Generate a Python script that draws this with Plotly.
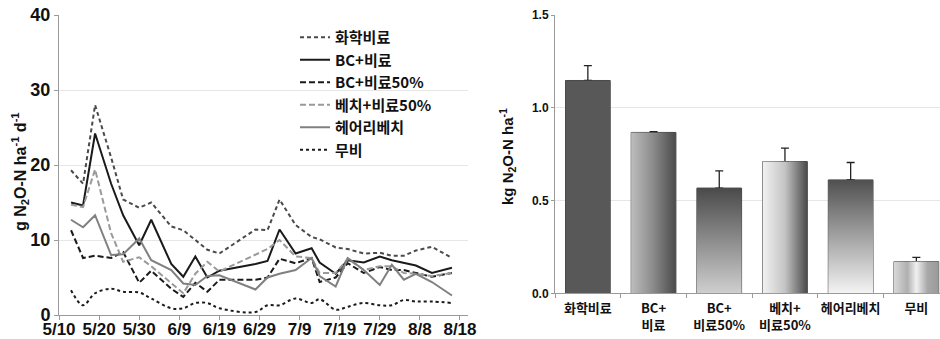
import datetime as dt
import plotly.graph_objects as go

# ---- daily N2O flux (g N2O-N ha-1 d-1) ----
sample_dates = ["05-13", "05-16", "05-19", "05-23", "05-26", "05-30", "06-02", "06-07", "06-10",
                "06-13", "06-16", "06-19", "06-28", "07-01", "07-04", "07-08", "07-12", "07-14",
                "07-18", "07-21", "07-25", "07-29", "08-01", "08-04", "08-07", "08-11", "08-16"]
year = 2014

flux_chem = [19.3, 17.5, 28.0, 21.0, 15.4, 14.3, 15.0, 11.8, 11.3, 10.0, 8.7, 8.2, 11.4, 11.3,
             15.4, 12.0, 10.4, 10.1, 9.0, 8.8, 8.2, 8.3, 7.9, 7.9, 8.6, 9.1, 7.6]
flux_bc = [15.0, 14.6, 24.2, 17.5, 13.3, 9.3, 12.7, 6.8, 5.1, 7.8, 5.0, 5.9, 6.8, 7.2,
           11.4, 8.2, 8.9, 7.0, 5.5, 7.3, 7.0, 7.8, 7.3, 7.0, 6.6, 5.6, 6.3]
flux_bc50 = [11.3, 7.6, 7.9, 7.6, 8.4, 4.3, 5.9, 3.5, 2.4, 4.3, 3.1, 4.7, 4.7, 5.0,
             7.5, 6.9, 7.6, 4.4, 5.0, 6.9, 5.6, 6.4, 6.0, 6.0, 5.6, 5.1, 5.6]
flux_vetch50 = [14.7, 14.4, 19.4, 10.9, 7.1, 7.7, 6.5, 4.2, 2.9, 5.5, 7.1, 5.8, 8.0, 8.8,
                10.0, 7.8, 7.6, 5.6, 5.6, 7.5, 6.0, 6.5, 6.5, 5.6, 5.5, 5.2, 5.6]
flux_vetch = [12.7, 11.7, 13.3, 8.0, 8.1, 10.2, 7.3, 6.0, 4.2, 4.0, 5.2, 5.3, 3.4, 5.0,
              5.5, 6.0, 7.6, 5.2, 3.8, 7.6, 6.0, 4.0, 6.7, 4.7, 5.5, 4.4, 2.6]
flux_none = [3.3, 1.3, 2.9, 3.5, 3.1, 3.0, 2.2, 0.9, 0.9, 1.6, 1.6, 0.9, 0.4, 1.3,
             1.3, 2.2, 1.6, 2.1, 0.7, 1.1, 1.6, 1.3, 1.3, 2.0, 1.8, 1.8, 1.6]

date_ticks = ["5/10", "5/20", "5/30", "6/9", "6/19", "6/29", "7/9", "7/19", "7/29", "8/8", "8/18"]

# ---- cumulative emission (kg N2O-N ha-1) ----
treatments = ["화학비료", "BC+<br>비료", "BC+<br>비료50%", "베치+<br>비료50%", "헤어리베치", "무비"]
total_emission = [1.147, 0.867, 0.567, 0.710, 0.611, 0.171]
total_err = [0.080, 0.004, 0.093, 0.072, 0.094, 0.023]

W, H = 940, 339
NUM_FONT = "Liberation Sans, Arial, sans-serif"
KR_FONT = "Noto Sans CJK KR, sans-serif"

x_dates = [f"{year}-{d}" for d in sample_dates]
tick_dates = [dt.date(year, int(t.split("/")[0]), int(t.split("/")[1])).isoformat() for t in date_ticks]

fig = go.Figure()

line_specs = [
    ("화학비료", flux_chem, dict(color="#4a4a4a", width=2, dash="4px,3px"), "linear"),
    ("BC+비료", flux_bc, dict(color="#1a1a1a", width=2), "linear"),
    ("BC+비료50%", flux_bc50, dict(color="#1a1a1a", width=2, dash="6px,3px"), "linear"),
    ("베치+비료50%", flux_vetch50, dict(color="#9a9a9a", width=2, dash="6px,3px"), "linear"),
    ("헤어리베치", flux_vetch, dict(color="#808080", width=2), "linear"),
    ("무비", flux_none, dict(color="#1a1a1a", width=2, dash="dot"), "spline"),
]
for i, (name, ys, ln, shape) in enumerate(line_specs):
    fig.add_trace(go.Scatter(
        x=x_dates, y=ys, name=name, mode="lines", line=dict(shape=shape, **ln),
        xaxis="x", yaxis="y", legendgroup=f"g{i}", showlegend=True,
    ))

# gradient-filled bar bodies
bw = 0.68
grads = [
    ("horizontal", [[0, "#585858"], [1, "#585858"]]),
    ("horizontal", [[0, "#bdbdbd"], [0.5, "#8a8a8a"], [1, "#4a4a4a"]]),
    ("vertical", [[0, "#cfcfcf"], [1, "#4a4a4a"]]),
    ("horizontal", [[0, "#f2f2f2"], [0.5, "#c4c4c4"], [1, "#4a4a4a"]]),
    ("vertical", [[0, "#f4f4f4"], [1, "#505050"]]),
    ("horizontal", [[0, "#d8d8d8"], [0.3, "#b0b0b0"], [0.5, "#f0f0f0"], [0.75, "#a8a8a8"], [1, "#9a9a9a"]]),
]
for i, (v, (gtype, cs)) in enumerate(zip(total_emission, grads)):
    fig.add_trace(go.Scatter(
        x=[i - bw / 2, i + bw / 2, i + bw / 2, i - bw / 2, i - bw / 2],
        y=[0, 0, v, v, 0], mode="lines", line=dict(width=0),
        fill="toself", fillgradient=dict(type=gtype, colorscale=cs),
        xaxis="x2", yaxis="y2", showlegend=False, hoverinfo="skip",
    ))

fig.add_trace(go.Bar(
    x=list(range(len(treatments))), y=total_emission, width=bw,
    marker=dict(color="rgba(0,0,0,0)", line=dict(color="#3a3a3a", width=1)),
    error_y=dict(type="data", array=total_err, arrayminus=[0] * len(total_err), symmetric=False,
                 color="#222", thickness=1.3, width=4),
    xaxis="x2", yaxis="y2", showlegend=False,
))

grid = "#e6e6e6"
axis_c = "#9a9a9a"
fig.update_layout(
    width=W, height=H, margin=dict(l=0, r=0, t=0, b=0, autoexpand=False),
    paper_bgcolor="white", plot_bgcolor="white", showlegend=True,
    xaxis=dict(domain=[59 / W, 468 / W], type="date", automargin=False,
               range=[f"{year}-05-10", f"{year}-08-20"],
               tickvals=tick_dates, ticktext=date_ticks, showgrid=False,
               showline=True, linecolor=axis_c, linewidth=1,
               ticks="outside", ticklen=4, tickcolor=axis_c, ticklabelstandoff=-5,
               tickfont=dict(family=NUM_FONT, size=17, color="#111", weight="bold"), anchor="y"),
    yaxis=dict(domain=[1 - 315 / H, 1 - 15 / H], range=[0, 40], tickvals=[0, 10, 20, 30, 40],
               automargin=False,
               showgrid=True, gridcolor=grid, zeroline=False,
               showline=True, linecolor=axis_c, linewidth=1,
               ticks="outside", ticklen=4, tickcolor=axis_c,
               tickfont=dict(family=NUM_FONT, size=18, color="#111", weight="bold"), anchor="x"),
    xaxis2=dict(domain=[555 / W, 1.0], range=[-0.5, 5.36], automargin=False,
                tickvals=list(range(len(treatments))), ticktext=treatments, ticks="",
                minor=dict(ticks="outside", tick0=-0.5, dtick=1, ticklen=4, tickcolor=axis_c),
                showgrid=False, zeroline=False, showline=True, linecolor=axis_c, linewidth=1,
                ticklabelstandoff=3,
                tickfont=dict(family=KR_FONT, size=13, color="#111", weight="bold"), anchor="y2"),
    yaxis2=dict(domain=[1 - 293.3 / H, 1 - 15 / H], range=[0, 1.5], tickvals=[0, 0.5, 1.0, 1.5],
                automargin=False,
                tickformat=".1f", showgrid=True, gridcolor=grid, zeroline=False,
                showline=True, linecolor=axis_c, linewidth=1,
                ticks="outside", ticklen=3, tickcolor=axis_c,
                tickfont=dict(family=NUM_FONT, size=12, color="#111", weight="bold"), anchor="x2"),
    legend=dict(x=295 / W, y=1 - 21 / H, xanchor="left", yanchor="top",
                bgcolor="rgba(0,0,0,0)", traceorder="grouped", tracegroupgap=0,
                font=dict(family=KR_FONT, size=15, color="#111", weight="bold"),
                itemwidth=30),
    annotations=[
        dict(text="g N<sub>2</sub>O-N ha<sup>-1</sup> d<sup>-1</sup>", textangle=-90,
             x=20 / W, y=1 - 172 / H, xref="paper", yref="paper", showarrow=False,
             xanchor="center", yanchor="middle",
             font=dict(family=NUM_FONT, size=16, color="#111", weight="bold")),
        dict(text="kg N<sub>2</sub>O-N ha<sup>-1</sup>", textangle=-90,
             x=507 / W, y=1 - 157 / H, xref="paper", yref="paper", showarrow=False,
             xanchor="center", yanchor="middle",
             font=dict(family=NUM_FONT, size=15, color="#111", weight="bold")),
    ],
)

fig.write_html("out.html")
